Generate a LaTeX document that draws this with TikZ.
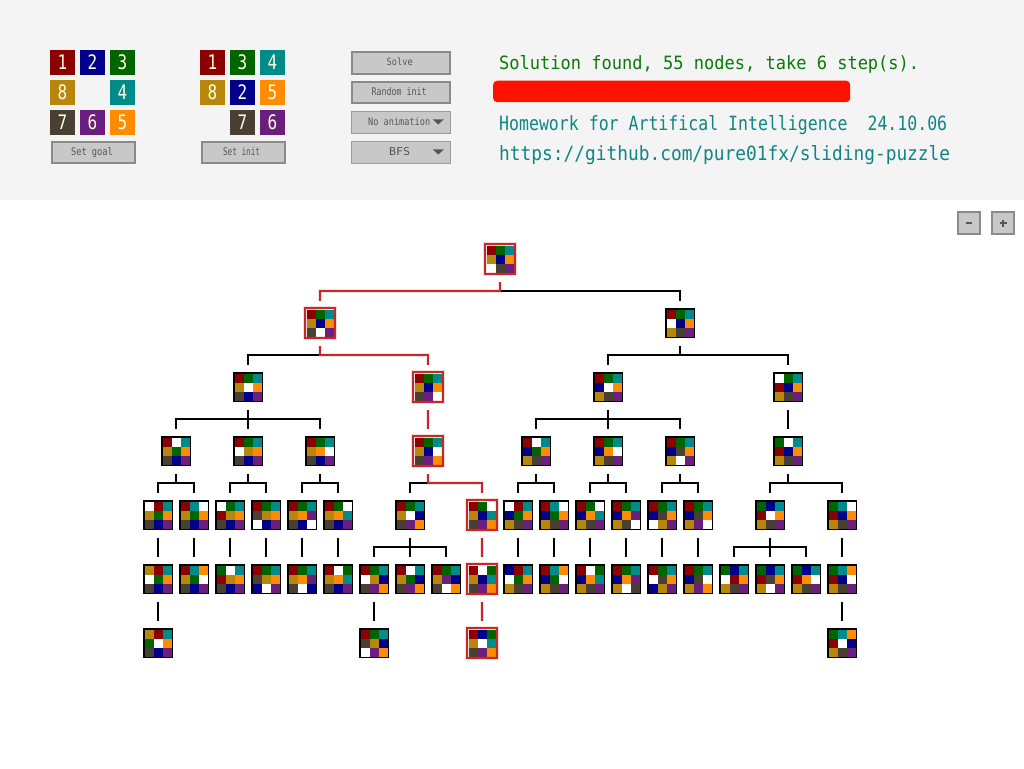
\documentclass[tikz,border=0pt]{standalone}
\usepackage{fontspec}
\usepackage{graphicx}
\newfontfamily\pixfont{DejaVu Sans Mono}
\definecolor{c0}{HTML}{FFFFFF}
\definecolor{c1}{HTML}{8B0000}
\definecolor{c2}{HTML}{00008B}
\definecolor{c3}{HTML}{006400}
\definecolor{c4}{HTML}{008B8B}
\definecolor{c5}{HTML}{FF8C00}
\definecolor{c6}{HTML}{6A1F7E}
\definecolor{c7}{HTML}{4A3F33}
\definecolor{c8}{HTML}{B8860B}
\definecolor{panel}{HTML}{F4F4F4}
\definecolor{btnfill}{HTML}{C8C8C8}
\definecolor{btnline}{HTML}{8A8A8A}
\definecolor{ddline}{HTML}{9C9C9C}
\definecolor{btntext}{HTML}{555555}
\definecolor{redc}{HTML}{C62828}
\definecolor{msggreen}{HTML}{0A7A0A}
\definecolor{msgteal}{HTML}{0F8585}
\definecolor{barred}{HTML}{FF1100}
\definecolor{digitc}{HTML}{FFFFE0}
\newcommand\fitt[3]{\resizebox{#1pt}{#2pt}{\pixfont #3}}
\newcommand\pz[5]{%
  \foreach \v [count=\k from 0] in {#4}{%
    \pgfmathtruncatemacro\pzr{\k/3}%
    \pgfmathtruncatemacro\pzc{mod(\k,3)}%
    \fill[fill=c\v] ({#2+(\pzc-1)*9-4.5},{#3+(\pzr-1)*9-4.5}) rectangle ++(9,9);
  }
  \node[#5] (#1) at (#2,#3) {};
}
\newcommand\ed[2]{\draw[edge] ([yshift=-23pt]#1.center) -- ([yshift=-32pt]#1.center) -| ([yshift=22pt]#2.center);}
\newcommand\redge[2]{\draw[redge] ([yshift=-23pt]#1.center) -- ([yshift=-32pt]#1.center) -| ([yshift=22pt]#2.center);}
\newcommand\tile[4]{\node[tile, fill=c#4] (#1) at (#2+12.5,#3+12.5) {\scalebox{0.8}[1]{#4}};}
\begin{document}
\begin{tikzpicture}[x=1pt,y=-1pt,
  puz/.style={draw=black, line width=1.4pt, minimum size=28.4pt, inner sep=0pt, rectangle},
  rpuz/.style={draw=redc, line width=1.2pt, minimum size=30pt, inner sep=0pt, rectangle,
     preaction={draw=redc, draw opacity=0.15, line width=3.2pt}},
  edge/.style={draw=black, line width=1.2pt},
  redge/.style={draw=redc, line width=1.2pt, preaction={draw=redc, draw opacity=0.13, line width=3.2pt}},
  tile/.style={minimum size=25pt, inner sep=0pt, text=digitc, font=\pixfont\fontsize{20}{20}\selectfont},
  btn/.style={draw=btnline, fill=btnfill, line width=2pt, inner sep=0pt, anchor=north west},
  dd/.style={draw=ddline, fill=btnfill, line width=1pt, inner sep=0pt, anchor=north west},
  lbl/.style={text=btntext, inner sep=0pt, anchor=base},
]
\useasboundingbox (0,0) rectangle (1024,768);
\fill[white] (0,0) rectangle (1024,768);
\fill[panel] (0,0) rectangle (1024,200);

% goal grid
\tile{g1}{50}{50}{1}\tile{g2}{80}{50}{2}\tile{g3}{110}{50}{3}
\tile{g8}{50}{80}{8}\tile{g4}{110}{80}{4}
\tile{g7}{50}{110}{7}\tile{g6}{80}{110}{6}\tile{g5}{110}{110}{5}
% init grid
\tile{i1}{200}{50}{1}\tile{i3}{230}{50}{3}\tile{i4}{260}{50}{4}
\tile{i8}{200}{80}{8}\tile{i2}{230}{80}{2}\tile{i5}{260}{80}{5}
\tile{i7}{230}{110}{7}\tile{i6}{260}{110}{6}

% buttons
\node[btn, minimum width=83pt, minimum height=21.3pt] (setgoal) at (51,141) {};
\node[lbl] (setgoalt) at (92,155) {\fitt{42}{8}{Set goal}};
\node[btn, minimum width=83pt, minimum height=21.3pt] (setinit) at (201,141) {};
\node[lbl] (setinitt) at (241.5,155) {\fitt{37}{8}{Set init}};
\node[btn, minimum width=98pt, minimum height=22pt] (solve) at (351,51) {};
\node[lbl] (solvet) at (399.7,65.7) {\fitt{26}{7.6}{Solve}};
\node[btn, minimum width=98pt, minimum height=21.3pt] (rinit) at (351,81) {};
\node[lbl] (rinitt) at (399,95.7) {\fitt{55}{8}{Random init}};
\node[dd, minimum width=99pt, minimum height=22.8pt] (anim) at (350.5,110.5) {};
\node[lbl, anchor=base west] (animt) at (368,125.3) {\fitt{62}{7.8}{No animation}};
\fill[btntext] (432.7,119.3) -- (443.8,119.3) -- (438.2,124.5) -- cycle;
\node[dd, minimum width=99pt, minimum height=22.8pt] (algo) at (350.5,140.5) {};
\node[lbl] (algot) at (399.5,155) {\fitt{21}{8}{BFS}};
\fill[btntext] (432.7,149.3) -- (444,149.3) -- (438.3,154.5) -- cycle;

% messages
\node[inner sep=0pt, anchor=base west, text=msggreen] (msg) at (499,69) {\fitt{420}{14}{Solution found, 55 nodes, take 6 step(s).}};
\node[fill=barred, rounded corners=4pt, minimum width=357pt, minimum height=21.5pt, inner sep=0pt, anchor=north west] (bar) at (493,80.5) {};
\node[inner sep=0pt, anchor=base west, text=msgteal] (hw) at (499,130.5) {\fitt{448}{15}{Homework for Artifical Intelligence~~24.10.06}};
\node[inner sep=0pt, anchor=base west, text=msgteal] (url) at (499,160) {\fitt{451}{15}{https://github.com/pure01fx/sliding-puzzle}};

% zoom buttons
\node[btn, minimum width=22pt, minimum height=22pt] (zminus) at (957,211) {};
\draw[btntext, line width=1.3pt] ([xshift=-3pt]zminus.center) -- ([xshift=3pt]zminus.center);
\node[btn, minimum width=22pt, minimum height=22pt] (zplus) at (991,211) {};
\draw[btntext, line width=1.1pt] ([xshift=-3.5pt]zplus.center) -- ([xshift=3.5pt]zplus.center)
  ([yshift=-3.5pt]zplus.center) -- ([yshift=3.5pt]zplus.center);

% tree nodes
\pz{n0}{500}{259}{1,3,4,8,2,5,0,7,6}{rpuz}
\pz{a1}{320}{323}{1,3,4,8,2,5,7,0,6}{rpuz}
\pz{a2}{680}{323}{1,3,4,0,2,5,8,7,6}{puz}
\pz{b1}{248}{387}{1,3,4,8,0,5,7,2,6}{puz}
\pz{b2}{428}{387}{1,3,4,8,2,5,7,6,0}{rpuz}
\pz{b3}{608}{387}{1,3,4,2,0,5,8,7,6}{puz}
\pz{b4}{788}{387}{0,3,4,1,2,5,8,7,6}{puz}
\pz{c1}{176}{451}{1,0,4,8,3,5,7,2,6}{puz}
\pz{c2}{248}{451}{1,3,4,0,8,5,7,2,6}{puz}
\pz{c3}{320}{451}{1,3,4,8,5,0,7,2,6}{puz}
\pz{c4}{428}{451}{1,3,4,8,2,0,7,6,5}{rpuz}
\pz{c5}{536}{451}{1,0,4,2,3,5,8,7,6}{puz}
\pz{c6}{608}{451}{1,3,4,2,5,0,8,7,6}{puz}
\pz{c7}{680}{451}{1,3,4,2,7,5,8,0,6}{puz}
\pz{c8}{788}{451}{3,0,4,1,2,5,8,7,6}{puz}
\pz{d1}{158}{515}{0,1,4,8,3,5,7,2,6}{puz}
\pz{d2}{194}{515}{1,4,0,8,3,5,7,2,6}{puz}
\pz{d3}{230}{515}{0,3,4,1,8,5,7,2,6}{puz}
\pz{d4}{266}{515}{1,3,4,7,8,5,0,2,6}{puz}
\pz{d5}{302}{515}{1,3,4,8,5,6,7,2,0}{puz}
\pz{d6}{338}{515}{1,3,0,8,5,4,7,2,6}{puz}
\pz{d7}{410}{515}{1,3,4,8,0,2,7,6,5}{puz}
\pz{d8}{482}{515}{1,3,0,8,2,4,7,6,5}{rpuz}
\pz{d9}{518}{515}{0,1,4,2,3,5,8,7,6}{puz}
\pz{d10}{554}{515}{1,4,0,2,3,5,8,7,6}{puz}
\pz{d11}{590}{515}{1,3,0,2,5,4,8,7,6}{puz}
\pz{d12}{626}{515}{1,3,4,2,5,6,8,7,0}{puz}
\pz{d13}{662}{515}{1,3,4,2,7,5,0,8,6}{puz}
\pz{d14}{698}{515}{1,3,4,2,7,5,8,6,0}{puz}
\pz{d15}{770}{515}{3,2,4,1,0,5,8,7,6}{puz}
\pz{d16}{842}{515}{3,4,0,1,2,5,8,7,6}{puz}
\pz{e1}{158}{579}{8,1,4,0,3,5,7,2,6}{puz}
\pz{e2}{194}{579}{1,4,5,8,3,0,7,2,6}{puz}
\pz{e3}{230}{579}{3,0,4,1,8,5,7,2,6}{puz}
\pz{e4}{266}{579}{1,3,4,7,8,5,2,0,6}{puz}
\pz{e5}{302}{579}{1,3,4,8,5,6,7,0,2}{puz}
\pz{e6}{338}{579}{1,0,3,8,5,4,7,2,6}{puz}
\pz{e7}{374}{579}{1,3,4,0,8,2,7,6,5}{puz}
\pz{e8}{410}{579}{1,0,4,8,3,2,7,6,5}{puz}
\pz{e9}{446}{579}{1,3,4,8,6,2,7,0,5}{puz}
\pz{e10}{482}{579}{1,0,3,8,2,4,7,6,5}{rpuz}
\pz{e11}{518}{579}{2,1,4,0,3,5,8,7,6}{puz}
\pz{e12}{554}{579}{1,4,5,2,3,0,8,7,6}{puz}
\pz{e13}{590}{579}{1,0,3,2,5,4,8,7,6}{puz}
\pz{e14}{626}{579}{1,3,4,2,5,6,8,0,7}{puz}
\pz{e15}{662}{579}{1,3,4,0,7,5,2,8,6}{puz}
\pz{e16}{698}{579}{1,3,4,2,7,0,8,6,5}{puz}
\pz{e17}{734}{579}{3,2,4,0,1,5,8,7,6}{puz}
\pz{e18}{770}{579}{3,2,4,1,7,5,8,0,6}{puz}
\pz{e19}{806}{579}{3,2,4,1,5,0,8,7,6}{puz}
\pz{e20}{842}{579}{3,4,5,1,2,0,8,7,6}{puz}
\pz{f1}{158}{643}{8,1,4,3,0,5,7,2,6}{puz}
\pz{f2}{374}{643}{1,3,4,7,8,2,0,6,5}{puz}
\pz{f3}{482}{643}{1,2,3,8,0,4,7,6,5}{rpuz}
\pz{f4}{842}{643}{3,4,5,1,0,2,8,7,6}{puz}

% black connectors
\ed{n0}{a2}
\ed{a1}{b1}
\ed{a2}{b3}\ed{a2}{b4}
\ed{b1}{c1}\ed{b1}{c2}\ed{b1}{c3}
\ed{b3}{c5}\ed{b3}{c6}\ed{b3}{c7}
\ed{b4}{c8}
\ed{c1}{d1}\ed{c1}{d2}
\ed{c2}{d3}\ed{c2}{d4}
\ed{c3}{d5}\ed{c3}{d6}
\ed{c4}{d7}
\ed{c5}{d9}\ed{c5}{d10}
\ed{c6}{d11}\ed{c6}{d12}
\ed{c7}{d13}\ed{c7}{d14}
\ed{c8}{d15}\ed{c8}{d16}
\ed{d1}{e1}\ed{d2}{e2}\ed{d3}{e3}\ed{d4}{e4}\ed{d5}{e5}\ed{d6}{e6}
\ed{d7}{e7}\ed{d7}{e8}\ed{d7}{e9}
\ed{d9}{e11}\ed{d10}{e12}\ed{d11}{e13}\ed{d12}{e14}\ed{d13}{e15}\ed{d14}{e16}
\ed{d15}{e17}\ed{d15}{e18}\ed{d15}{e19}
\ed{d16}{e20}
\ed{e1}{f1}\ed{e7}{f2}\ed{e20}{f4}
% solution path
\redge{n0}{a1}
\redge{a1}{b2}
\redge{b2}{c4}
\redge{c4}{d8}
\redge{d8}{e10}
\redge{e10}{f3}
\end{tikzpicture}
\end{document}
